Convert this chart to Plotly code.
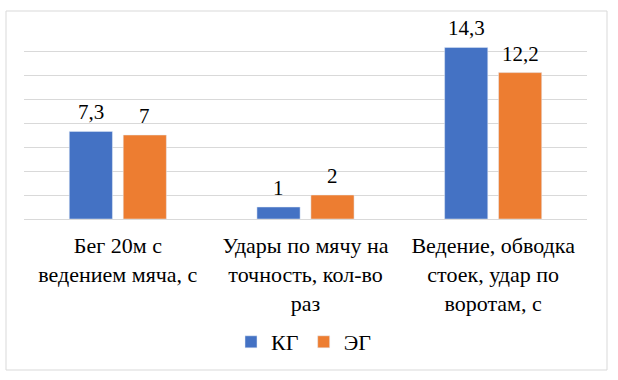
import plotly.graph_objects as go

categories = ["Бег 20м с<br>ведением мяча, с",
              "Удары по мячу на<br>точность, кол-во<br>раз",
              "Ведение, обводка<br>стоек, удар по<br>воротам, с"]
kg_values = [7.3, 1, 14.3]
eg_values = [7, 2, 12.2]
series_names = ["КГ", "ЭГ"]
colors = ["#4472C4", "#ED7D31"]

def fmt(v):
    return f"{v:g}".replace(".", ",")

FONT = "'Liberation Serif', 'Times New Roman', Times, serif"
W, H = 618, 380
L, R, T, B = 24, 31, 27, 161
pw, ph = W - L - R, H - T - B

def px_x(p):
    return (p - L) / pw

def px_y(p):
    return (H - B - p) / ph

fig = go.Figure()
annotations = []
for i, (name, vals, col) in enumerate(zip(series_names, [kg_values, eg_values], colors)):
    fig.add_trace(go.Bar(x=categories, y=vals, name=name, marker_color=col))
    shift = -27 if i == 0 else 27
    for c, v in zip(categories, vals):
        annotations.append(dict(x=c, y=v, text=fmt(v), showarrow=False,
                                xref="x", yref="y", xshift=shift, yshift=5,
                                yanchor="bottom",
                                font=dict(family=FONT, size=21, color="#000000")))

fig.update_layout(
    width=W, height=H,
    margin=dict(l=L, r=R, t=T, b=B),
    paper_bgcolor="white", plot_bgcolor="white",
    barmode="group", bargap=0.425, bargroupgap=0.2,
    font=dict(family=FONT, size=22, color="#000000"),
    xaxis=dict(showline=True, linecolor="#D9D9D9", linewidth=1, automargin=False,
               ticks="", ticklabelstandoff=7,
               tickfont=dict(family=FONT, size=22, color="#000000")),
    yaxis=dict(range=[0, 16], dtick=2, showgrid=True, gridcolor="#D9D9D9",
               gridwidth=1, showticklabels=False, zeroline=False, ticks="",
               automargin=False),
    legend=dict(orientation="h", x=px_x(304), xanchor="center",
                y=px_y(342), yanchor="middle",
                font=dict(family=FONT, size=22, color="#000000"),
                traceorder="normal", itemwidth=30),
    annotations=annotations,
    shapes=[dict(type="rect", xref="paper", yref="paper",
                 x0=px_x(6), x1=px_x(607), y0=px_y(370), y1=px_y(11),
                 line=dict(color="#D9D9D9", width=1), layer="below")],
)

fig.write_html("out.html", config={"displayModeBar": False},
               post_script="document.body.style.margin='0';document.body.style.overflow='hidden';")
